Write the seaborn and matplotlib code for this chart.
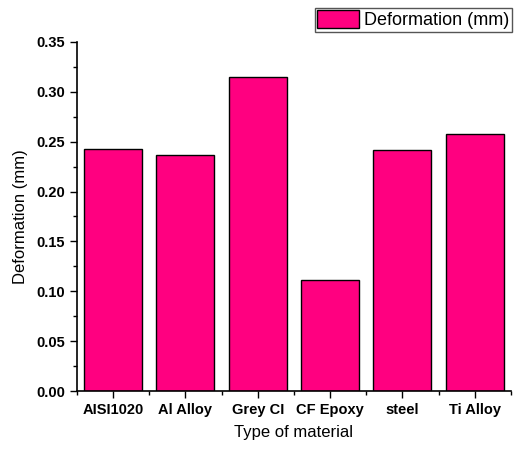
import matplotlib
matplotlib.use("Agg")
import matplotlib.pyplot as plt
import seaborn as sns
from matplotlib.ticker import MultipleLocator, FixedLocator

materials = ["AISI1020", "Al Alloy", "Grey CI", "CF Epoxy", "steel", "Ti Alloy"]
deformation = [0.243, 0.237, 0.315, 0.111, 0.242, 0.258]

sns.set_style("ticks")
plt.rcParams['font.family'] = ['Liberation Sans', 'DejaVu Sans']
plt.rcParams['text.color'] = 'black'
plt.rcParams['axes.labelcolor'] = 'black'
plt.rcParams['xtick.color'] = 'black'
plt.rcParams['ytick.color'] = 'black'

fig = plt.figure(figsize=(5.16, 4.5), dpi=100)
ax = fig.add_axes([0.149, 0.131, 0.841, 0.776])

sns.barplot(x=materials, y=deformation, color="#FF0080", edgecolor="black",
            linewidth=1.0, width=0.8, saturation=1, ax=ax, label="Deformation (mm)")

ax.set_xlim(-0.5, 5.5)
ax.set_ylim(0, 0.35)
ax.yaxis.set_major_locator(MultipleLocator(0.05))
ax.yaxis.set_minor_locator(MultipleLocator(0.025))
ax.xaxis.set_minor_locator(FixedLocator([k - 0.5 for k in range(7)]))
ax.yaxis.set_major_formatter(matplotlib.ticker.FormatStrFormatter('%.2f'))

ax.tick_params(axis='both', which='major', direction='out', length=5, width=1, labelsize=10.5, color='black')
ax.tick_params(axis='both', which='minor', direction='out', length=3, width=1, color='black')
for lab in ax.get_xticklabels() + ax.get_yticklabels():
    lab.set_fontweight('bold')

sns.despine(ax=ax)
for s in ['left', 'bottom']:
    ax.spines[s].set_linewidth(1.2)
    ax.spines[s].set_color('black')

ax.set_xlabel("Type of material", fontsize=12, labelpad=6)
ax.set_ylabel("Deformation (mm)", fontsize=12, labelpad=6)

leg = ax.legend(loc='upper right', bbox_to_anchor=(0.993, 0.983), bbox_transform=fig.transFigure,
                fontsize=13, frameon=True, fancybox=False, framealpha=1,
                handlelength=2.3, handleheight=1.1, handletextpad=0.3, borderpad=0.15, borderaxespad=0)
leg.get_frame().set_edgecolor('#555555')
leg.get_frame().set_linewidth(1.0)

fig.savefig("out.png", dpi=100)
